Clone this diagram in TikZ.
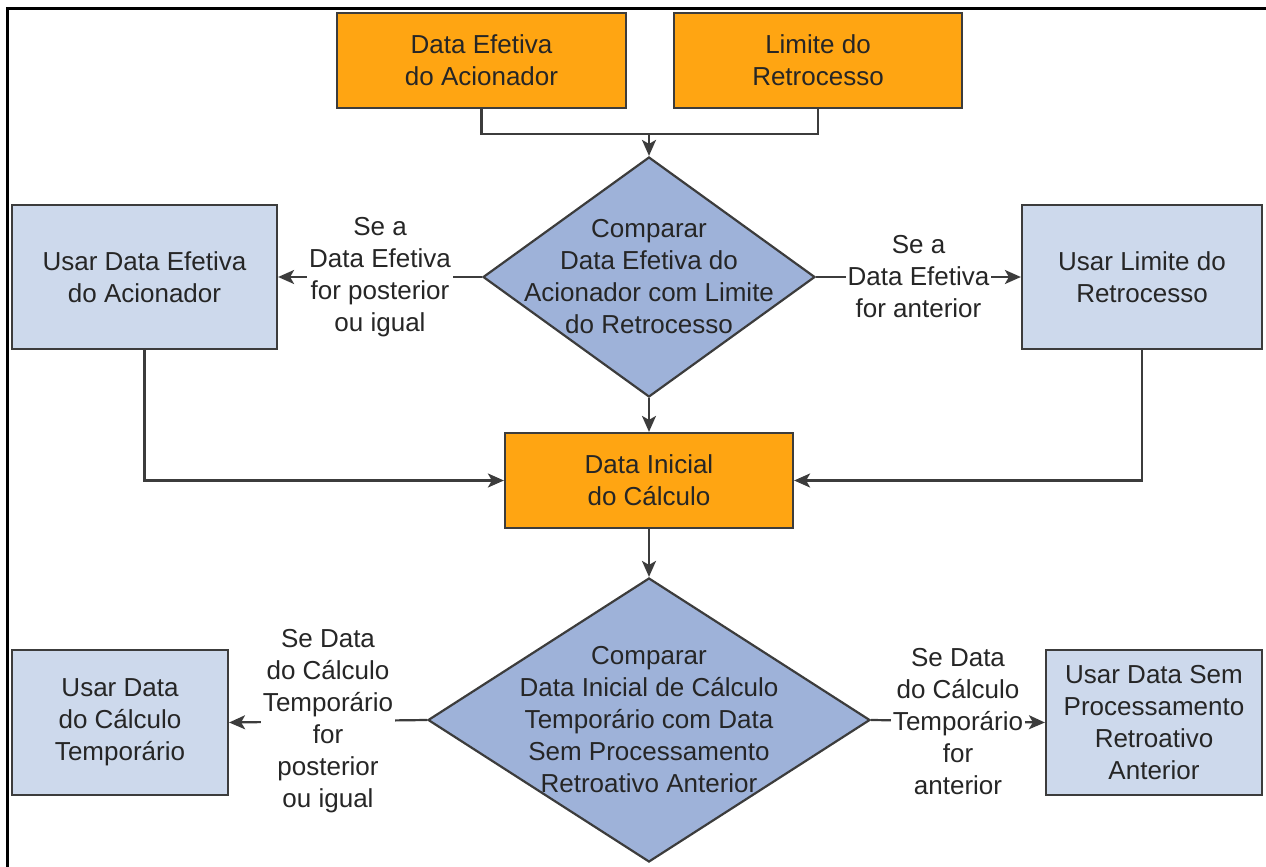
\documentclass[tikz,border=0pt]{standalone}
\usepackage{fontspec}
\setmainfont{Liberation Sans}
\usetikzlibrary{shapes.geometric,arrows.meta}

\definecolor{boxorange}{RGB}{255,165,18}
\definecolor{boxblue}{RGB}{205,217,236}
\definecolor{diamblue}{RGB}{158,178,217}
\definecolor{edgegray}{RGB}{60,60,60}
\definecolor{txtgray}{RGB}{38,38,38}

\begin{document}
\begin{tikzpicture}[x=0.5pt,y=-0.5pt,
    every node/.style={font=\fontsize{13}{16}\selectfont,text=txtgray,align=center},
    inbox/.style={draw=edgegray,line width=1.1pt,fill=boxorange,inner sep=0pt},
    usebox/.style={draw=edgegray,line width=1.1pt,fill=boxblue,inner sep=0pt},
    decide/.style={draw=edgegray,line width=1.1pt,fill=diamblue,shape=diamond,inner sep=0pt},
    cond/.style={fill=white,inner sep=1pt},
    link/.style={draw=edgegray,line width=1.1pt},
    flow/.style={link,-{Stealth[length=8pt,width=7pt,inset=2pt]}}]

  \useasboundingbox (0,0) rectangle (1266,867);
  \draw[line width=1.5pt] (7,867) -- (7,8) -- (1266,8);

  % Inputs
  \node[inbox,minimum width=144.5pt,minimum height=47.5pt] (efet) at (481.5,60.5) {Data Efetiva\\do Acionador};
  \node[inbox,minimum width=144pt,minimum height=47.5pt] (limite) at (818,60.5) {Limite do\\Retrocesso};
  \coordinate (junc) at (649,134);

  \draw[link] (efet.south) |- (junc);
  \draw[link] (limite.south) |- (junc);

  % First comparison
  \node[decide,minimum width=166pt,minimum height=120pt] (cmp1) at (649,277) {};
  \node (cmp1txt) at (cmp1.center) {Comparar\\Data Efetiva do\\Acionador com Limite\\do Retrocesso};

  \draw[flow] (junc) -- (cmp1.north);

  \node[usebox,minimum width=132.5pt,minimum height=72pt] (useefet) at (144.5,277) {Usar Data Efetiva\\do Acionador};
  \node[usebox,minimum width=120pt,minimum height=72pt] (uselim) at (1142,277) {Usar Limite do\\Retrocesso};

  \draw[flow] (cmp1.west) -- node[cond] {Se a\\Data Efetiva\\for posterior\\ou igual} (useefet.east);
  \draw[flow] (cmp1.east) -- node[cond] {Se a\\Data Efetiva\\for anterior} (uselim.west);

  % Start date
  \node[inbox,minimum width=144pt,minimum height=47.5pt] (inicial) at (649,480.5) {Data Inicial\\do Cálculo};

  \draw[flow] (cmp1.south) -- (inicial.north);
  \draw[flow] (useefet.south) |- (inicial.west);
  \draw[flow] (uselim.south) |- (inicial.east);

  % Second comparison
  \node[decide,minimum width=221pt,minimum height=142pt] (cmp2) at (649,720) {};
  \node (cmp2txt) at (cmp2.center) {Comparar\\Data Inicial de Cálculo\\Temporário com Data\\Sem Processamento\\Retroativo Anterior};

  \draw[flow] (inicial.south) -- (cmp2.north);

  \node[usebox,minimum width=108pt,minimum height=72.5pt] (usetemp) at (120,722.5) {Usar Data\\do Cálculo\\Temporário};
  \node[usebox,minimum width=108pt,minimum height=72.5pt] (usesem) at (1154,722.5) {Usar Data Sem\\Processamento\\Retroativo\\Anterior};

  \draw[flow] (cmp2.west) -- node[cond] {Se Data\\do Cálculo\\Temporário\\for\\posterior\\ou igual} (usetemp.east);
  \draw[flow] (cmp2.east) -- node[cond] {Se Data\\do Cálculo\\Temporário\\for\\anterior} (usesem.west);

\end{tikzpicture}
\end{document}
